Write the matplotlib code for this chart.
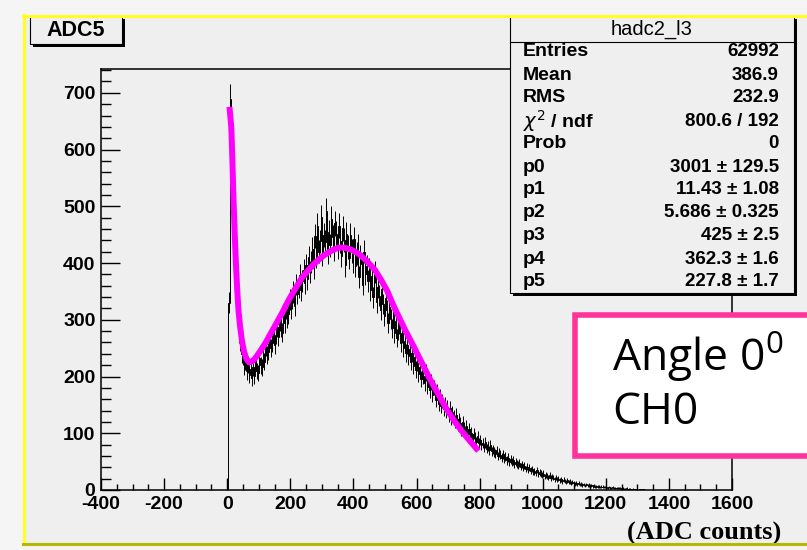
import numpy as np
import matplotlib
matplotlib.use("Agg")
import matplotlib.pyplot as plt
from matplotlib.patches import Rectangle
from matplotlib.lines import Line2D
from matplotlib.ticker import MultipleLocator

plt.rcParams['axes.unicode_minus'] = False

W, H = 807, 550

# histogram hadc2_l3, 4 ADC counts per bin starting at 0
bin_width = 4
counts = [
    0, 330, 690, 600, 528, 452, 388, 338, 302, 276,
    262, 240, 236, 218, 226, 209, 221, 203, 214, 198,
    216, 201, 227, 210, 206, 232, 220, 216, 240, 226,
    252, 238, 244, 266, 251, 259, 278, 255, 273, 287,
    270, 298, 286, 277, 310, 294, 319, 303, 311, 336,
    320, 338, 349, 325, 362, 346, 357, 379, 352, 368,
    388, 365, 396, 372, 410, 384, 402, 425, 391, 447,
    412, 466, 420, 438, 481, 415, 450, 437, 492, 418,
    455, 431, 478, 446, 424, 470, 452, 428, 466, 439,
    413, 461, 440, 396, 451, 428, 409, 449, 421, 402,
    443, 395, 417, 430, 376, 412, 398, 362, 420, 381,
    395, 368, 390, 352, 377, 340, 366, 384, 331, 358,
    342, 318, 355, 328, 306, 339, 317, 294, 322, 301,
    285, 311, 276, 298, 268, 282, 292, 259, 276, 250,
    262, 241, 255, 236, 248, 226, 241, 219, 235, 212,
    224, 204, 217, 196, 210, 201, 188, 207, 182, 196,
    176, 190, 168, 181, 172, 158, 174, 152, 166, 148,
    157, 143, 152, 139, 147, 131, 144, 126, 137, 129,
    121, 133, 114, 125, 118, 106, 119, 110, 102, 113,
    98, 108, 94, 101, 89, 99, 92, 85, 95, 82,
    88, 79, 83, 75, 84, 73, 77, 70, 79, 68,
    71, 67, 64, 70, 60, 66, 62, 57, 63, 55,
    59, 52, 57, 50, 54, 49, 52, 45, 50, 46,
    44, 47, 41, 45, 39, 43, 37, 41, 35, 39,
    34, 37, 32, 33, 30, 35, 28, 31, 29, 26,
    29, 24, 27, 25, 22, 26, 21, 24, 22, 19,
    22, 18, 20, 17, 19, 15, 18, 16, 14, 17,
    14, 15, 12, 14, 13, 11, 13, 10, 12, 10,
    11, 9, 10, 8, 10, 8, 9, 7, 8, 7,
    8, 6, 7, 6, 7, 5, 6, 6, 5, 5,
    6, 4, 5, 4, 4, 5, 3, 4, 3, 4,
    3, 3, 2, 3, 2, 2, 3, 1, 2, 2,
    1, 2, 1, 1, 1, 0, 1, 1, 0, 1,
]

# fitted curve
fit_x = [8, 13, 16, 19, 22, 25, 28, 32, 36, 41, 47, 53, 60, 69, 80, 90, 105,
         121, 137, 153, 175, 195, 217, 238, 258, 278, 305, 331, 352, 373, 395,
         415, 440, 468, 488, 508, 523, 538, 564, 590, 617, 643, 670, 696, 722,
         749, 770, 790]
fit_y = [670, 640, 590, 530, 480, 435, 395, 350, 315, 288, 262, 245, 232, 225,
         227, 233, 245, 259, 275, 291, 313, 335, 356, 375, 388, 400, 413, 422,
         427, 427, 423, 417, 405, 388, 370, 350, 330, 312, 282, 254, 224, 195,
         168, 142, 120, 100, 86, 73]

hist_name = "hadc2_l3"
title = "ADC5"
stat_names = ["Entries", "Mean", "RMS", r"$\chi^{2}$ / ndf", "Prob",
              "p0", "p1", "p2", "p3", "p4", "p5"]
stat_vals = ["62992", "386.9", "232.9", "800.6 / 192", "0",
             "3001 ± 129.5", "11.43 ± 1.08", "5.686 ± 0.325", "425 ± 2.5",
             "362.3 ± 1.6", "227.8 ± 1.7"]

fig = plt.figure(figsize=(W / 100, H / 100), dpi=100)
fig.patch.set_facecolor('#f5f5f5')


def fx(x):
    return x / W


def fy(y):
    return 1 - y / H


def rect(x0, y0, x1, y1, **kw):
    r = Rectangle((fx(x0), fy(y1)), (x1 - x0) / W, (y1 - y0) / H,
                  transform=fig.transFigure, **kw)
    fig.add_artist(r)
    return r


def hline(x0, x1, y, **kw):
    fig.add_artist(Line2D([fx(x0), fx(x1)], [fy(y), fy(y)], transform=fig.transFigure, **kw))


def vline(x, y0, y1, **kw):
    fig.add_artist(Line2D([fx(x), fx(x)], [fy(y0), fy(y1)], transform=fig.transFigure, **kw))


# pad
rect(24, 16, 812, 544, facecolor='#efefef', edgecolor='none', zorder=-5)

ax = fig.add_axes([101 / W, 1 - 490 / H, 631 / W, 421 / H])
ax.set_facecolor('none')
edges = np.arange(len(counts) + 1) * bin_width
centers = edges[:-1] + bin_width / 2
ax.stairs(counts, edges, color='black', lw=0.7)
ax.errorbar(centers, counts, yerr=np.sqrt(counts), fmt='none', ecolor='black', elinewidth=0.7)
ax.plot(fit_x, fit_y, color='#ff00ff', lw=4.3, solid_joinstyle='round')
ax.set_xlim(-400, 1600)
ax.set_ylim(0, 742)
ax.set_xticks(np.arange(-400, 1601, 200))
ax.xaxis.set_minor_locator(MultipleLocator(50))
ax.set_yticks(np.arange(0, 701, 100))
ax.yaxis.set_minor_locator(MultipleLocator(20))
ax.tick_params(axis='x', which='major', direction='in', length=9, width=1, pad=4)
ax.tick_params(axis='x', which='minor', direction='in', length=4.5, width=1)
ax.tick_params(axis='y', which='major', direction='in', length=14, width=1, pad=4)
ax.tick_params(axis='y', which='minor', direction='in', length=7, width=1)
for lab in ax.get_xticklabels() + ax.get_yticklabels():
    lab.set_fontfamily('Liberation Sans')
    lab.set_fontweight('bold')
    lab.set_fontsize(14)
for s in ax.spines.values():
    s.set_linewidth(1.1)

# title box
rect(33, 19, 125, 47, facecolor='black', edgecolor='none', zorder=4)
rect(30, 16, 122, 44, facecolor='#efefef', edgecolor='black', lw=0.8, zorder=4)
fig.text(fx(76), fy(31), title, ha='center', va='center', fontsize=15.5,
         fontweight='bold', family='Liberation Sans', zorder=5)

# stats box
rect(513, 19, 797, 296, facecolor='black', edgecolor='none', zorder=4)
rect(510, 16, 794, 293, facecolor='#efefef', edgecolor='black', lw=0.8, zorder=4)
hline(510, 794, 42, color='black', lw=0.8, zorder=5)
fig.text(fx(652), fy(29), hist_name, ha='center', va='center', fontsize=14.5,
         family='Liberation Sans', zorder=5)
for i, (n, v) in enumerate(zip(stat_names, stat_vals)):
    y = 52 + i * 23
    fig.text(fx(523), fy(y), n, ha='left', va='center', fontsize=14,
             fontweight='bold', family='Liberation Sans', zorder=5)
    fig.text(fx(779), fy(y), v, ha='right', va='center', fontsize=13.5,
             fontweight='bold', family='Liberation Sans', zorder=5)

# pad border
hline(23, 812, 15.5, color='#ffff22', lw=2.2, zorder=6)
vline(24, 15, 544, color='#ffff22', lw=2.2, zorder=6)
hline(23, 812, 543.5, color='#b8b800', lw=2.2, zorder=6)

# annotation box
rect(575, 315, 815, 456, facecolor='white', edgecolor='#ff3399', lw=4, zorder=7)
fig.text(fx(612), fy(357), r"Angle 0$^{\mathregular{0}}$", ha='left', va='center',
         fontsize=32, family='Open Sans', zorder=8)
fig.text(fx(612), fy(413), "CH0", ha='left', va='center',
         fontsize=32, family='Open Sans', zorder=8)

fig.text(fx(704), fy(533), "(ADC counts)", ha='center', va='center', fontsize=19,
         fontweight='bold', family='Liberation Serif', zorder=5)

fig.savefig("out.png", dpi=100, facecolor=fig.get_facecolor())
